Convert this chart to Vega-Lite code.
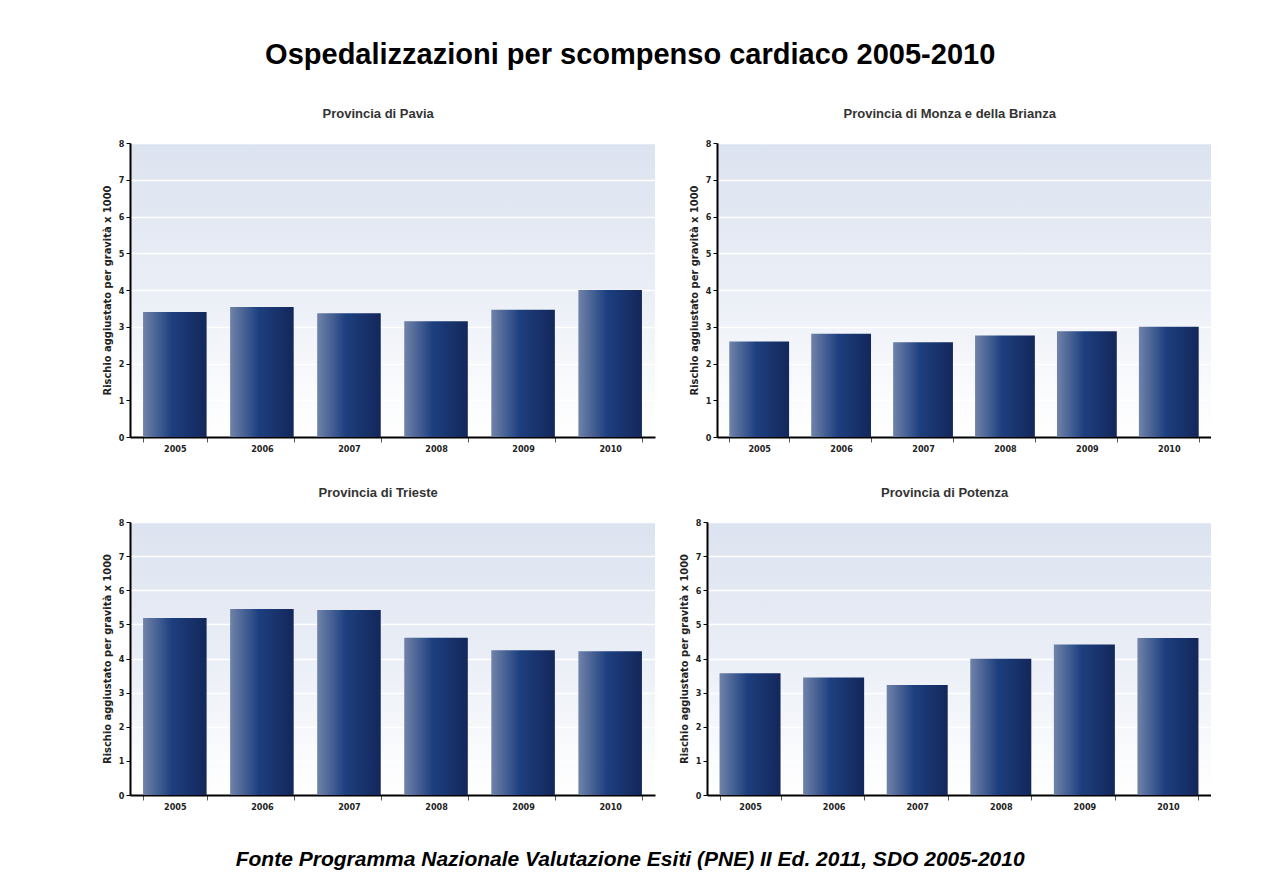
{
  "$schema": "https://vega.github.io/schema/vega-lite/v6.json",
  "background": "white",
  "padding": {"left": 101, "top": 41, "right": 0, "bottom": 0},
  "title": {
    "text": "Ospedalizzazioni per scompenso cardiaco 2005-2010",
    "font": "Liberation Sans",
    "fontSize": 29,
    "fontWeight": "bold",
    "color": "#000000",
    "anchor": "middle",
    "frame": "bounds",
    "dx": -26,
    "offset": 38
  },
  "data": {
    "values": [
      {"p": "Pavia", "year": "2005", "v": 3.4},
      {"p": "Pavia", "year": "2006", "v": 3.54},
      {"p": "Pavia", "year": "2007", "v": 3.37},
      {"p": "Pavia", "year": "2008", "v": 3.15},
      {"p": "Pavia", "year": "2009", "v": 3.46},
      {"p": "Pavia", "year": "2010", "v": 4.0},
      {"p": "Monza", "year": "2005", "v": 2.6},
      {"p": "Monza", "year": "2006", "v": 2.81},
      {"p": "Monza", "year": "2007", "v": 2.58},
      {"p": "Monza", "year": "2008", "v": 2.76},
      {"p": "Monza", "year": "2009", "v": 2.88},
      {"p": "Monza", "year": "2010", "v": 3.0},
      {"p": "Trieste", "year": "2005", "v": 5.19},
      {"p": "Trieste", "year": "2006", "v": 5.45},
      {"p": "Trieste", "year": "2007", "v": 5.42},
      {"p": "Trieste", "year": "2008", "v": 4.61},
      {"p": "Trieste", "year": "2009", "v": 4.24},
      {"p": "Trieste", "year": "2010", "v": 4.21},
      {"p": "Potenza", "year": "2005", "v": 3.57},
      {"p": "Potenza", "year": "2006", "v": 3.44},
      {"p": "Potenza", "year": "2007", "v": 3.22},
      {"p": "Potenza", "year": "2008", "v": 3.99},
      {"p": "Potenza", "year": "2009", "v": 4.41},
      {"p": "Potenza", "year": "2010", "v": 4.6}
    ]
  },
  "spacing": 34,
  "vconcat": [
    {
      "spacing": 33,
      "hconcat": [
        {
          "title": "Provincia di Pavia",
          "width": 525,
          "height": 294,
          "transform": [{"filter": "datum.p === 'Pavia'"}],
          "mark": {"type": "bar", "color": {"gradient": "linear", "x1": 0, "y1": 0, "x2": 1, "y2": 0, "stops": [{"offset": 0, "color": "#7083a9"}, {"offset": 0.45, "color": "#1d3f7f"}, {"offset": 1, "color": "#13275a"}]}},
          "encoding": {
            "x": {"field": "year", "type": "ordinal", "axis": {"title": null}},
            "y": {"field": "v", "type": "quantitative", "scale": {"domain": [0, 8]}, "axis": {"title": "Rischio aggiustato per gravità x 1000"}}
          }
        },
        {
          "title": "Provincia di Monza e della Brianza",
          "width": 494,
          "height": 294,
          "transform": [{"filter": "datum.p === 'Monza'"}],
          "mark": {"type": "bar", "color": {"gradient": "linear", "x1": 0, "y1": 0, "x2": 1, "y2": 0, "stops": [{"offset": 0, "color": "#7083a9"}, {"offset": 0.45, "color": "#1d3f7f"}, {"offset": 1, "color": "#13275a"}]}},
          "encoding": {
            "x": {"field": "year", "type": "ordinal", "axis": {"title": null}},
            "y": {"field": "v", "type": "quantitative", "scale": {"domain": [0, 8]}, "axis": {"title": "Rischio aggiustato per gravità x 1000"}}
          }
        }
      ]
    },
    {
      "spacing": 23,
      "title": {
        "text": "Fonte Programma Nazionale Valutazione Esiti (PNE) II Ed. 2011, SDO 2005-2010",
        "orient": "bottom",
        "anchor": "middle",
        "frame": "bounds",
        "font": "Liberation Sans",
        "fontSize": 21,
        "fontStyle": "italic",
        "fontWeight": "bold",
        "color": "#000000",
        "dx": -26,
        "offset": 38
      },
      "hconcat": [
        {
          "title": "Provincia di Trieste",
          "width": 525,
          "height": 273,
          "transform": [{"filter": "datum.p === 'Trieste'"}],
          "mark": {"type": "bar", "color": {"gradient": "linear", "x1": 0, "y1": 0, "x2": 1, "y2": 0, "stops": [{"offset": 0, "color": "#7083a9"}, {"offset": 0.45, "color": "#1d3f7f"}, {"offset": 1, "color": "#13275a"}]}},
          "encoding": {
            "x": {"field": "year", "type": "ordinal", "axis": {"title": null}},
            "y": {"field": "v", "type": "quantitative", "scale": {"domain": [0, 8]}, "axis": {"title": "Rischio aggiustato per gravità x 1000"}}
          }
        },
        {
          "title": "Provincia di Potenza",
          "width": 504,
          "height": 273,
          "transform": [{"filter": "datum.p === 'Potenza'"}],
          "mark": {"type": "bar", "color": {"gradient": "linear", "x1": 0, "y1": 0, "x2": 1, "y2": 0, "stops": [{"offset": 0, "color": "#7083a9"}, {"offset": 0.45, "color": "#1d3f7f"}, {"offset": 1, "color": "#13275a"}]}},
          "encoding": {
            "x": {"field": "year", "type": "ordinal", "axis": {"title": null}},
            "y": {"field": "v", "type": "quantitative", "scale": {"domain": [0, 8]}, "axis": {"title": "Rischio aggiustato per gravità x 1000"}}
          }
        }
      ]
    }
  ],
  "resolve": {"scale": {"x": "independent", "y": "independent"}},
  "config": {
    "view": {
      "stroke": null,
      "fill": {"gradient": "linear", "x1": 0, "y1": 0, "x2": 0, "y2": 1, "stops": [{"offset": 0, "color": "#dce3f0"}, {"offset": 0.5, "color": "#eaeef6"}, {"offset": 0.85, "color": "#fafbfd"}, {"offset": 1, "color": "#ffffff"}]}
    },
    "scale": {"bandPaddingInner": 0.27, "bandPaddingOuter": 0.15},
    "title": {
      "font": "Liberation Sans",
      "fontSize": 13,
      "fontWeight": "bold",
      "color": "#333333",
      "anchor": "middle",
      "frame": "bounds",
      "offset": 18
    },
    "axis": {
      "labelFont": "Liberation Sans Narrow, DejaVu Sans Condensed, Liberation Sans",
      "labelFontWeight": "bold",
      "labelFontSize": 9,
      "labelColor": "#222222",
      "titleFont": "Liberation Sans Narrow, DejaVu Sans Condensed, Liberation Sans",
      "titleFontWeight": "bold",
      "titleFontSize": 11,
      "titleColor": "#222222",
      "domainColor": "#000000",
      "domainWidth": 2
    },
    "axisX": {
      "labelAngle": 0,
      "tickBand": "extent",
      "tickColor": "#555555",
      "tickSize": 5,
      "labelPadding": 2,
      "grid": false
    },
    "axisY": {
      "values": [0, 1, 2, 3, 4, 5, 6, 7, 8],
      "tickColor": "#000000",
      "tickSize": 4,
      "labelPadding": 2,
      "titlePadding": 6,
      "grid": true,
      "gridColor": "#ffffff",
      "gridWidth": 1.5,
      "gridOpacity": 1
    }
  }
}
